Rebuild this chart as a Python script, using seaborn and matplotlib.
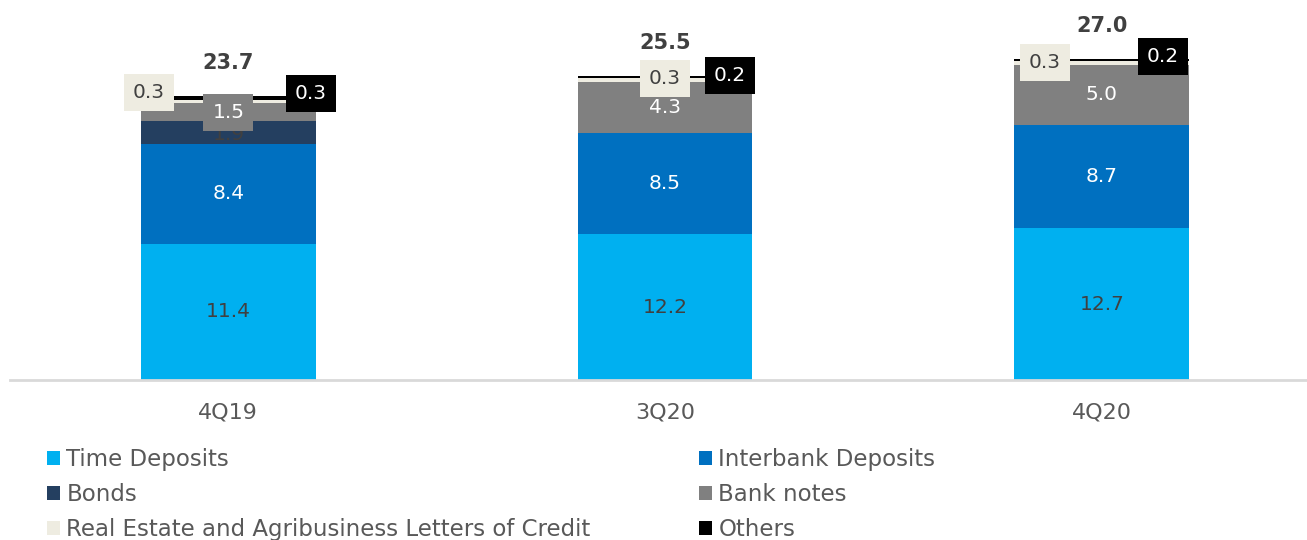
import matplotlib
matplotlib.use("Agg")
import matplotlib.pyplot as plt
import seaborn as sns
import pandas as pd
import numpy as np
from matplotlib.patches import Patch

quarters = ["4Q19", "3Q20", "4Q20"]
time_dep = [11.4, 12.2, 12.7]
interbank = [8.4, 8.5, 8.7]
bonds = [1.9, 0.0, 0.0]
bank_notes = [1.5, 4.3, 5.0]
re_agri = [0.3, 0.3, 0.3]
others = [0.3, 0.2, 0.2]
totals = ["23.7", "25.5", "27.0"]

series_names = ["Time Deposits", "Interbank Deposits", "Bonds", "Bank notes",
                "Real Estate and Agribusiness Letters of Credit", "Others"]
series_vals = [time_dep, interbank, bonds, bank_notes, re_agri, others]
colors = ["#00B0F0", "#0070C0", "#243F60", "#808080", "#EEECE1", "#000000"]

sns.set_theme(style="white")
plt.rcParams["font.family"] = ["DejaVu Sans"]

fig = plt.figure(figsize=(13.07, 5.40), dpi=100)
ax = fig.add_axes([10/1307, 160/540, 1297/1307, 380/540])

vals = np.array(series_vals)
cum = np.cumsum(vals, axis=0)

# draw from top cumulative down so that lower series overlay
for i in range(len(series_names) - 1, -1, -1):
    df = pd.DataFrame({"q": quarters, "v": cum[i]})
    sns.barplot(data=df, x="q", y="v", color=colors[i], saturation=1,
                width=0.4, linewidth=0, ax=ax, errorbar=None)

ax.set_xlim(-0.5, 2.47)
ax.set_ylim(0, 31.85)
ax.set_xlabel("")
ax.set_ylabel("")
ax.set_yticks([])
for s in ["top", "right", "left"]:
    ax.spines[s].set_visible(False)
ax.spines["bottom"].set_color("#D9D9D9")
ax.spines["bottom"].set_linewidth(2)
ax.tick_params(axis="x", length=0, pad=16, labelsize=16, labelcolor="#595959")

dark = "#404040"
fs = 14.5
for j in range(3):
    ax.text(j, time_dep[j] / 2, f"{time_dep[j]:.1f}", ha="center", va="center",
            fontsize=fs, color=dark)
    ax.text(j, cum[0][j] + interbank[j] / 2, f"{interbank[j]:.1f}", ha="center",
            va="center", fontsize=fs, color="white")
    if bonds[j] > 0:
        ax.text(j, cum[1][j] + bonds[j] / 2 - 0.15, f"{bonds[j]:.1f}", ha="center",
                va="center", fontsize=fs, color=dark)
    if j == 0:
        ax.text(j, cum[2][j] + bank_notes[j] / 2, f"{bank_notes[j]:.1f}",
                ha="center", va="center", fontsize=fs, color="white",
                bbox=dict(boxstyle="square,pad=0.45", fc="#808080", ec="none"))
    else:
        ax.text(j, cum[2][j] + bank_notes[j] / 2, f"{bank_notes[j]:.1f}",
                ha="center", va="center", fontsize=fs, color="white")
    ax.text(j, cum[5][j] + 2.75, totals[j], ha="center", va="center",
            fontsize=15, fontweight="bold", color=dark)

re_x = [-0.182, 0.0, -0.13]
re_dy = [0.3, -0.25, -0.28]
ot_x = [0.189, 0.148, 0.14]
ot_dy = [0.23, 0.0, 0.22]
for j in range(3):
    ax.text(j + re_x[j], cum[5][j] + re_dy[j], f"{re_agri[j]:.1f}", ha="center",
            va="center", fontsize=fs, color=dark,
            bbox=dict(boxstyle="square,pad=0.45", fc="#EEECE1", ec="none"))
    ax.text(j + ot_x[j], cum[5][j] + ot_dy[j], f"{others[j]:.1f}", ha="center",
            va="center", fontsize=fs, color="white",
            bbox=dict(boxstyle="square,pad=0.45", fc="#000000", ec="none"))

handles = [Patch(facecolor=c, edgecolor="none") for c in colors]
leg_kw = dict(loc="upper left", frameon=False, fontsize=16.5, labelcolor="#595959",
              handlelength=0.55, handleheight=0.55, handletextpad=0.3,
              labelspacing=0.52, borderaxespad=0, borderpad=0)
leg1 = fig.legend([handles[0], handles[2], handles[4]],
                  [series_names[0], series_names[2], series_names[4]],
                  bbox_to_anchor=(47/1307, 1 - 448/540), **leg_kw)
leg2 = fig.legend([handles[1], handles[3], handles[5]],
                  [series_names[1], series_names[3], series_names[5]],
                  bbox_to_anchor=(699/1307, 1 - 448/540), **leg_kw)

fig.savefig("out.png", dpi=100)
